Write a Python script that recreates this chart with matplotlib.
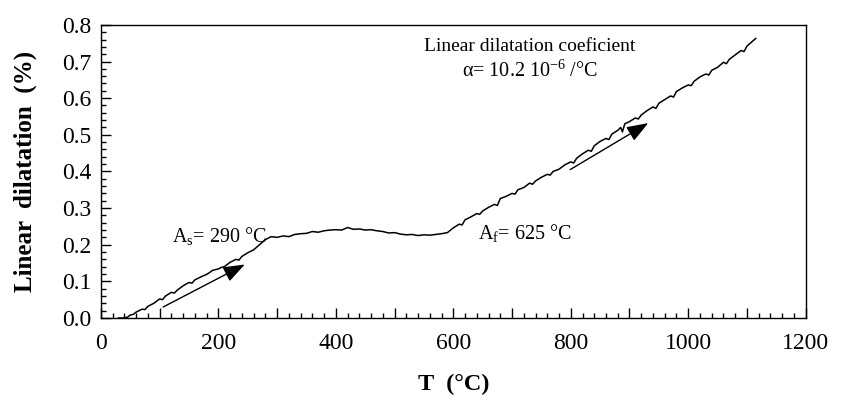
import numpy as np
from matplotlib import pyplot as plt
from matplotlib.ticker import MultipleLocator, FuncFormatter

plt.rcParams['font.family'] = ['Liberation Serif', 'DejaVu Serif']
plt.rcParams['mathtext.fontset'] = 'custom'
plt.rcParams['mathtext.rm'] = 'Liberation Serif'
plt.rcParams['mathtext.it'] = 'Liberation Serif:italic'

# temperature (C) and linear dilatation (%)
temp = [30, 40, 46, 50, 55, 60, 70, 75, 80, 90, 100, 105, 110, 120, 125, 130,
        140, 150, 155, 160, 170, 180, 185, 190, 200, 205, 210, 220, 230, 235,
        240, 250, 260, 270, 280, 290, 300, 310, 320, 330, 340, 350, 360, 370,
        380, 390, 400, 410, 420, 430, 440, 450, 460, 470, 480, 490, 500, 510,
        520, 530, 540, 550, 560, 570, 580, 590, 600, 610, 615, 620, 630, 640,
        645, 650, 660, 670, 675, 680, 690, 700, 705, 710, 720, 730, 735, 740,
        750, 760, 765, 770, 780, 790, 800, 805, 810, 820, 830, 835, 840, 850,
        860, 865, 870, 880, 885, 888, 892, 900, 910, 915, 920, 930, 940, 945,
        950, 960, 970, 975, 980, 990, 1000, 1005, 1010, 1020, 1030, 1035, 1040,
        1050, 1060, 1065, 1070, 1080, 1090, 1095, 1100, 1110, 1115]
dilat = [0.0, 0.0, 0.003, 0.008, 0.010, 0.016, 0.024, 0.023, 0.032, 0.040,
         0.052, 0.050, 0.060, 0.070, 0.068, 0.076, 0.088, 0.097, 0.095, 0.104,
         0.112, 0.119, 0.124, 0.130, 0.134, 0.138, 0.140, 0.152, 0.160, 0.158,
         0.168, 0.178, 0.186, 0.200, 0.214, 0.222, 0.220, 0.224, 0.222, 0.228,
         0.230, 0.231, 0.236, 0.234, 0.238, 0.240, 0.241, 0.240, 0.247, 0.242,
         0.243, 0.240, 0.241, 0.238, 0.236, 0.232, 0.233, 0.229, 0.227, 0.228,
         0.225, 0.227, 0.226, 0.228, 0.230, 0.233, 0.246, 0.256, 0.254, 0.268,
         0.276, 0.285, 0.283, 0.292, 0.302, 0.310, 0.307, 0.326, 0.332, 0.340,
         0.338, 0.350, 0.356, 0.368, 0.365, 0.374, 0.384, 0.392, 0.390, 0.400,
         0.406, 0.418, 0.426, 0.423, 0.436, 0.448, 0.458, 0.455, 0.470, 0.482,
         0.490, 0.487, 0.502, 0.512, 0.520, 0.508, 0.530, 0.536, 0.546, 0.543,
         0.554, 0.566, 0.576, 0.572, 0.586, 0.596, 0.606, 0.603, 0.618, 0.628,
         0.636, 0.634, 0.646, 0.658, 0.666, 0.663, 0.676, 0.684, 0.698, 0.694,
         0.706, 0.718, 0.730, 0.727, 0.742, 0.756, 0.763]

# heating direction arrows (tail, head)
arrow1 = ((106, 0.030), (245, 0.146))
arrow2 = ((799, 0.405), (932, 0.532))

fig = plt.figure(figsize=(8.41, 4.01), dpi=100)
ax = fig.add_axes([0.120, 0.207, 0.838, 0.731])

ax.plot(temp, dilat, color='black', lw=1.1)

for tail, head in (arrow1, arrow2):
    ax.annotate('', xy=head, xytext=tail,
                arrowprops=dict(arrowstyle='-|>,head_length=0.6,head_width=0.22',
                                mutation_scale=22, color='black', lw=1.0,
                                shrinkA=0, shrinkB=0))

ax.text(0.101, 0.28, 'A$_\\mathrm{s}$= 290 °C', transform=ax.transAxes,
        fontsize=14.5, ha='left', va='center')
ax.text(0.535, 0.289, 'A$_\\mathrm{f}$= 625 °C', transform=ax.transAxes,
        fontsize=14.5, ha='left', va='center')
ax.text(0.609, 0.925, 'Linear dilatation coeficient', transform=ax.transAxes,
        fontsize=14, ha='center', va='center')
ax.text(0.609, 0.842, 'α= 10.2 10$^{-6}$ /°C', transform=ax.transAxes,
        fontsize=14.5, ha='center', va='center')

ax.set_xlim(0, 1200)
ax.set_ylim(0, 0.8)
ax.xaxis.set_major_locator(MultipleLocator(100))
ax.xaxis.set_minor_locator(MultipleLocator(20))
ax.yaxis.set_major_locator(MultipleLocator(0.1))
ax.yaxis.set_minor_locator(MultipleLocator(0.02))
ax.xaxis.set_major_formatter(FuncFormatter(
    lambda v, p: '%d' % v if int(round(v)) % 200 == 0 else ''))
ax.yaxis.set_major_formatter(FuncFormatter(lambda v, p: '%.1f' % v))

ax.tick_params(which='both', direction='in', top=False, right=False,
               labelsize=17, width=1.0)
ax.tick_params(which='major', length=7)
ax.tick_params(which='minor', length=3.5)
ax.tick_params(axis='x', pad=11)
ax.tick_params(axis='y', pad=7)
for s in ax.spines.values():
    s.set_linewidth(1.0)

ax.set_xlabel('T  (°C)', fontsize=17.5, fontweight='bold', labelpad=14)
ax.set_ylabel('Linear  dilatation  (%)', fontsize=18, fontweight='bold', labelpad=18)

fig.savefig('out.png', dpi=100)
